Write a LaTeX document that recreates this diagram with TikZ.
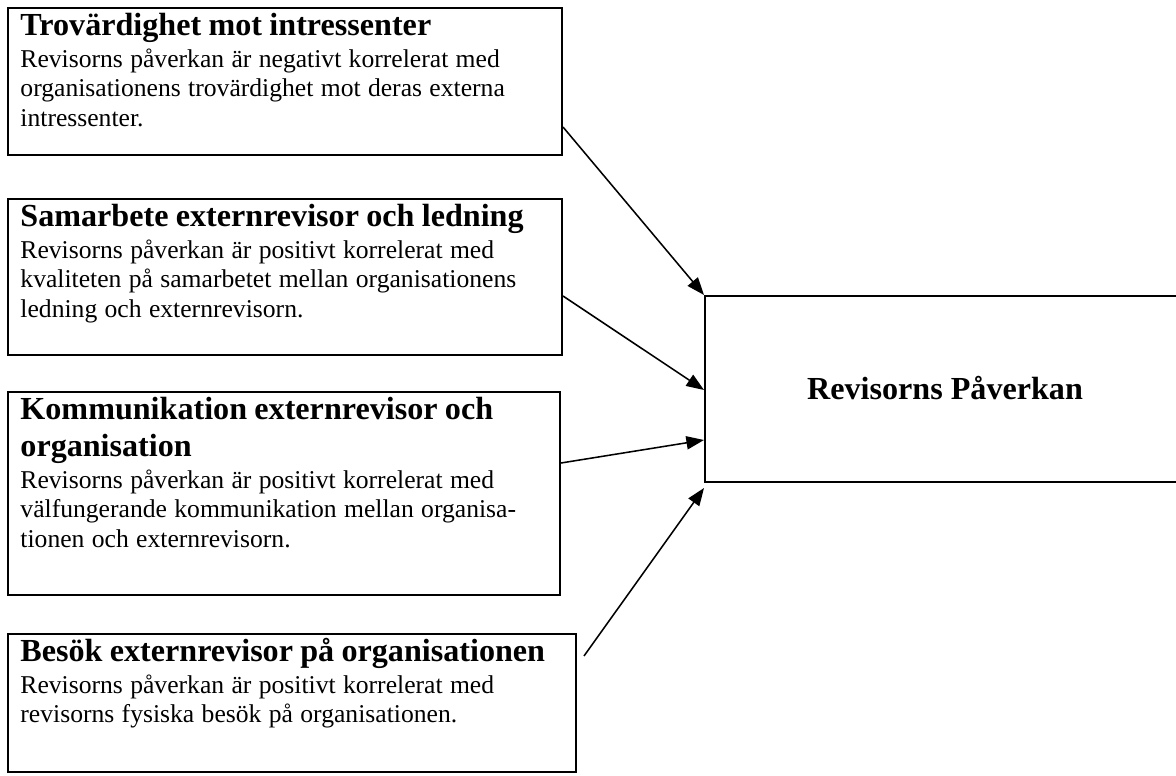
\documentclass[tikz,border=0pt]{standalone}
\usepackage{fontspec}
\setmainfont{Liberation Serif}
\usetikzlibrary{arrows.meta,fit}
\setlength{\parindent}{0pt}
\newcommand{\hd}[1]{{\fontsize{14.6}{16.8}\selectfont\bfseries\rule{0pt}{11.8pt}#1\par}\vspace{1pt}}
\newcommand{\bd}[1]{{\fontsize{11.65}{13.45}\selectfont #1\par}}
\tikzset{
  box/.style={draw=black, line width=0.9pt, inner sep=0pt},
  txt/.style={anchor=north west, inner sep=0pt, text width=280pt, align=left},
  arr/.style={line width=0.7pt, -{Triangle[length=8pt,width=6pt]}},
  ttl/.style={font=\fontsize{14.6}{16.8}\selectfont\bfseries, inner sep=0pt, anchor=base}
}
\begin{document}
\begin{tikzpicture}[x=0.4545pt,y=-0.4545pt]
\useasboundingbox (0,0) rectangle (1176,776);
\clip (0,0) rectangle (1176,776);
\node[box, fit={(8,8) (562,155)}] (b1) {};
\node[box, fit={(8,199) (562,355)}] (b2) {};
\node[box, fit={(8,392) (560,595)}] (b3) {};
\node[box, fit={(8,634) (576,772)}] (b4) {};
\node[box, fit={(705,296) (1190,482)}] (rb) {};
\node[txt] (t1) at (20,9) {\hd{Trovärdighet mot intressenter}\bd{Revisorns påverkan är negativt korrelerat med\\organisationens trovärdighet mot deras externa\\intressenter.}};
\node[txt] (t2) at (20,200) {\hd{Samarbete externrevisor och ledning}\bd{Revisorns påverkan är positivt korrelerat med\\kvaliteten på samarbetet mellan organisationens\\ledning och externrevisorn.}};
\node[txt] (t3) at (20,393) {\hd{Kommunikation externrevisor och\\organisation}\bd{Revisorns påverkan är positivt korrelerat med\\välfungerande kommunikation mellan organisa-\\tionen och externrevisorn.}};
\node[txt] (t4) at (20,635) {\hd{Besök externrevisor på organisationen}\bd{Revisorns påverkan är positivt korrelerat med\\revisorns fysiska besök på organisationen.}};
\node[ttl] (rt) at (945,399) {Revisorns Påverkan};
\coordinate (s4) at (584,656);
\draw[arr] (b1.east |- 0,127) -- (rb.north west);
\draw[arr] (b2.east |- 0,296) -- (rb.west |- 0,390);
\draw[arr] (b3.east |- 0,463) -- (rb.west |- 0,440);
\draw[arr] (s4) -- (rb.west |- 0,488);
\end{tikzpicture}
\end{document}
